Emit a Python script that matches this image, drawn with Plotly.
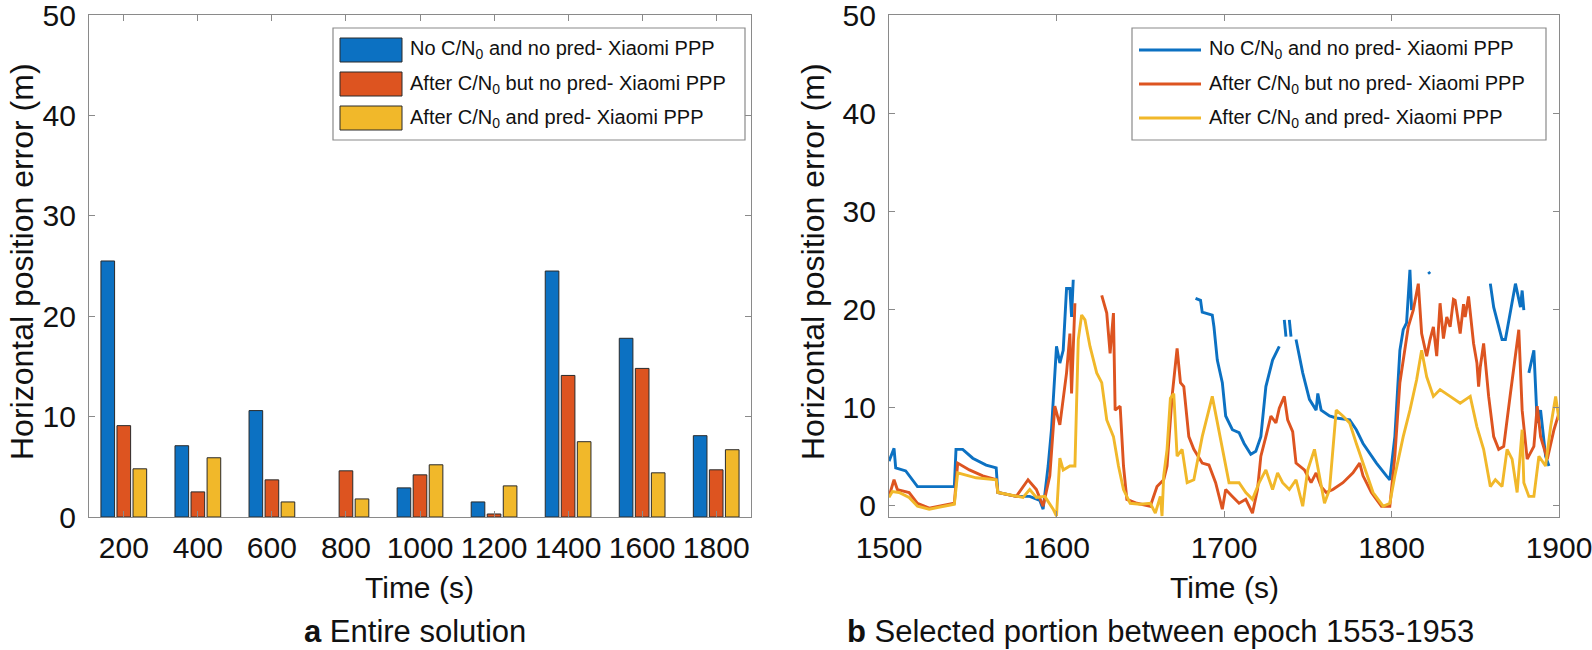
import plotly.graph_objects as go

W, H = 1592, 650

# ---------------- data: panel a (bars) ----------------
bar_times = [200, 400, 600, 800, 1000, 1200, 1400, 1600, 1800]
bar_tick_labels = ["200", "400", "600", "800", "1000", "1200", "1400", "1600", "1800"]
err_no_cn0_no_pred = [25.5, 7.1, 10.6, None, 2.9, 1.5, 24.5, 17.8, 8.1]
err_cn0_no_pred = [9.1, 2.5, 3.7, 4.6, 4.2, 0.3, 14.1, 14.8, 4.7]
err_cn0_pred = [4.8, 5.9, 1.5, 1.8, 5.2, 3.1, 7.5, 4.4, 6.7]

# ---------------- data: panel b (lines) ----------------
blue_t = [1500, 1503, 1504, 1510, 1517, 1524, 1539, 1540, 1544, 1550, 1558, 1564, 1565, 1576, 1584,
          1590, 1592, 1595, 1597, 1600, 1602, 1604, 1606, 1608, 1609, 1610, 1611,
          1683, 1686, 1687, 1693, 1694, 1696, 1699, 1701, 1705, 1709, 1712, 1716, 1719, 1722, 1725,
          1729, 1733, 1734,
          1736, 1737, 1738, 1739, 1740, 1741,
          1743, 1747, 1751, 1755, 1756, 1758, 1763, 1767, 1775, 1779, 1783, 1791, 1797, 1799, 1802,
          1805, 1807, 1809, 1811, 1812, 1813,
          1822, 1823, 1824,
          1859, 1861, 1866, 1868, 1874, 1877, 1878, 1879, 1880,
          1882, 1885, 1887, 1889, 1892, 1894]
blue_v = [4.5, 5.8, 3.8, 3.5, 1.9, 1.9, 1.9, 5.7, 5.7, 4.8, 4.1, 3.8, 1.3, 0.9, 0.9,
          0.5, -0.4, 4.0, 7.7, 16.2, 14.5, 15.8, 22.1, 22.1, 19.2, 23.0, None,
          21.1, 20.9, 19.7, 19.4, 18.2, 14.8, 12.5, 9.1, 7.7, 7.4, 6.3, 5.2, 5.5, 7.0, 12.1,
          14.8, 16.2, None,
          18.9, 17.2, None, 18.9, 17.2, None,
          16.9, 13.5, 10.8, 9.7, 11.4, 9.7, 9.1, 8.9, 8.7, 7.7, 6.3, 4.3, 3.0, 2.6, 7.0,
          15.8, 17.9, 18.6, 24.0, 19.9, None,
          23.8, 23.6, None,
          22.6, 20.2, 16.9, 16.9, 22.6, 20.2, 21.9, 19.9, None,
          13.5, 15.8, 8.4, 9.7, 5.0, 4.0]

orange_t = [1500, 1503, 1505, 1512, 1517, 1524, 1539, 1541, 1548, 1556, 1564, 1565, 1576, 1583, 1588,
            1592, 1596, 1599, 1602, 1604, 1606, 1608, 1609, 1611, 1612,
            1627, 1630, 1632, 1634, 1635, 1638, 1640, 1642, 1648, 1656, 1660, 1664, 1666, 1669,
            1672, 1674, 1676, 1679, 1682, 1687, 1691, 1695, 1699, 1701, 1705, 1709, 1713, 1717,
            1720, 1722, 1725, 1728, 1731, 1733, 1736, 1738, 1741, 1743, 1748, 1752, 1755, 1758,
            1761, 1765, 1771, 1777, 1781, 1783, 1788, 1794, 1799, 1802, 1805, 1808, 1810, 1813,
            1816, 1818, 1821, 1823, 1825, 1827, 1829, 1831, 1833, 1835, 1837, 1838, 1841, 1843,
            1844, 1846, 1849, 1851, 1852, 1853, 1855, 1858, 1861, 1864, 1867, 1871, 1874, 1876,
            1878, 1881, 1885, 1887, 1889, 1893, 1897, 1900]
orange_v = [0.9, 2.6, 1.6, 1.3, 0.2, -0.3, 0.2, 4.3, 3.6, 3.0, 2.6, 1.3, 0.9, 2.6, 1.6,
            -0.1, 3.0, 10.1, 8.2, 10.9, 13.5, 17.5, 11.4, 20.6, None,
            21.4, 19.6, 15.5, 19.6, 9.7, 10.1, 4.0, 0.6, 0.2, -0.1, 1.9, 2.6, 4.0, 11.1,
            16.0, 12.5, 12.1, 7.0, 5.7, 4.3, 4.1, 2.3, -0.4, 1.6, 0.9, 0.2, 0.6, -0.8,
            1.6, 5.0, 7.0, 9.1, 8.4, 9.9, 11.1, 8.7, 7.5, 4.3, 3.6, 2.3, 3.3, 1.9,
            1.3, 1.6, 2.3, 3.3, 4.3, 3.0, 1.3, -0.1, -0.1, 5.0, 12.5, 15.8, 18.2, 19.9,
            22.6, 17.5, 15.2, 16.9, 18.2, 15.2, 20.6, 17.0, 19.2, 18.2, 21.0, 20.9, 17.5, 20.5,
            19.2, 21.3, 16.5, 14.5, 12.1, 14.1, 16.5, 11.1, 7.0, 5.7, 6.0, 11.4, 15.2, 17.9,
            9.7, 4.7, 6.0, 10.1, 7.0, 4.7, 7.7, 9.4]

yellow_t = [1500, 1502, 1506, 1512, 1517, 1524, 1539, 1541, 1552, 1564, 1565, 1580, 1584, 1588, 1593,
            1598, 1600, 1602, 1604, 1608, 1611, 1613, 1615, 1617, 1620, 1624, 1627, 1630, 1634,
            1637, 1640, 1644, 1650, 1656, 1659, 1662, 1663, 1664, 1666, 1668, 1670, 1672, 1675,
            1678, 1682, 1687, 1693, 1696, 1699, 1703, 1709, 1713, 1717, 1721, 1725, 1729, 1732,
            1735, 1739, 1743, 1747, 1750, 1754, 1757, 1760, 1763, 1767, 1771, 1775, 1779, 1783,
            1789, 1795, 1799, 1802, 1807, 1811, 1815, 1818, 1821, 1825, 1829, 1835, 1841, 1847,
            1851, 1855, 1859, 1862, 1866, 1869, 1872, 1875, 1878, 1879, 1882, 1885, 1888, 1892,
            1895, 1898, 1900]
yellow_v = [0.8, 1.4, 1.3, 0.8, -0.1, -0.4, 0.1, 3.3, 2.8, 2.6, 1.3, 0.8, 1.6, 0.8, 0.9,
            -0.4, -1.1, 4.8, 3.6, 4.0, 4.0, 16.9, 19.4, 18.9, 16.2, 13.5, 12.5, 8.7, 7.0,
            4.0, 1.6, 0.2, 0.1, 0.2, -0.8, 0.9, -1.1, 3.0, 5.7, 10.9, 11.4, 5.0, 5.7,
            2.3, 2.6, 7.0, 11.1, 8.4, 5.7, 2.3, 2.3, 1.3, 0.6, 2.3, 3.6, 1.6, 3.3,
            2.3, 1.6, 2.6, -0.1, 3.6, 5.7, 3.0, 0.2, 1.6, 9.7, 9.1, 8.4, 6.3, 4.3,
            1.3, -0.1, 0.2, 3.0, 7.0, 9.7, 12.8, 15.8, 13.1, 11.1, 11.8, 11.1, 10.4, 11.1,
            8.0, 5.7, 1.9, 2.6, 1.9, 5.7, 4.7, 1.3, 7.7, 2.3, 0.9, 0.9, 5.0, 4.0,
            8.0, 11.1, 8.7]

series_names = [
    "No C/N<sub>0</sub> and no pred- Xiaomi PPP",
    "After C/N<sub>0</sub> but no pred- Xiaomi PPP",
    "After C/N<sub>0</sub> and pred- Xiaomi PPP",
]
y_ticks = [0, 10, 20, 30, 40, 50]
line_ticks = [1500, 1600, 1700, 1800, 1900]

# ---------------- style ----------------
COLORS = ["#0C71C2", "#DD5420", "#F1B82A"]
FONT = "Liberation Sans, Arial, sans-serif"
TXT = "#111111"
FRAME = "#8a8a8a"


def px(x):
    return x / W


def py(y):
    return 1 - y / H


fig = go.Figure()

for name, vals, col in zip(series_names, [err_no_cn0_no_pred, err_cn0_no_pred, err_cn0_pred], COLORS):
    fig.add_trace(go.Bar(x=bar_times, y=vals, name=name,
                         marker=dict(color=col, line=dict(color="#2a2a2a", width=1)),
                         xaxis="x", yaxis="y", showlegend=False))

for name, t, v, col in zip(series_names, [blue_t, orange_t, yellow_t], [blue_v, orange_v, yellow_v], COLORS):
    fig.add_trace(go.Scatter(x=t, y=v, mode="lines", name=name, line=dict(color=col, width=2.9),
                             connectgaps=False, xaxis="x2", yaxis="y2", showlegend=False))

axis_common = dict(showline=True, linecolor=FRAME, linewidth=1.2, mirror="ticks", ticks="inside",
                   ticklen=6, tickcolor=FRAME, showgrid=False, zeroline=False, automargin=False,
                   tickangle=0, ticklabeloverflow="allow",
                   tickfont=dict(family=FONT, size=30, color=TXT))

fig.update_layout(
    width=W, height=H, margin=dict(l=0, r=0, t=0, b=0),
    paper_bgcolor="white", plot_bgcolor="white",
    barmode="group", bargap=0.35, bargroupgap=0.15,
    xaxis=dict(domain=[px(89), px(751)], range=[106, 1894], tickvals=bar_times, ticktext=bar_tick_labels,
               anchor="y", ticklabelstandoff=4, **axis_common),
    yaxis=dict(domain=[py(517), py(15)], range=[0, 50], tickvals=y_ticks, anchor="x",
               ticklabelstandoff=6, **axis_common),
    xaxis2=dict(domain=[px(889), px(1559)], range=[1500, 1900], tickvals=line_ticks, anchor="y2",
                ticklabelstandoff=4, **axis_common),
    yaxis2=dict(domain=[py(517), py(15)], range=[-1.2, 50], tickvals=y_ticks, anchor="x2",
                ticklabelstandoff=6, **axis_common),
)

ann = []
shapes = []
ann.append(dict(text="Horizontal position error (m)", x=px(22), y=py(262), textangle=-90, size=32))
ann.append(dict(text="Horizontal position error (m)", x=px(813), y=py(262), textangle=-90, size=32))
ann.append(dict(text="Time (s)", x=px(420), y=py(587), size=30))
ann.append(dict(text="Time (s)", x=px(1224), y=py(587), size=30))
ann.append(dict(text="<b>a</b> Entire solution", x=px(415), y=py(631), size=31))
ann.append(dict(text="<b>b</b> Selected portion between epoch 1553-1953", x=px(1160), y=py(631), size=31))
annotations = []
for a in ann:
    s = a.pop("size")
    a.update(xref="paper", yref="paper", showarrow=False, xanchor="center", yanchor="middle",
             font=dict(family=FONT, size=s, color=TXT))
    annotations.append(a)

# legends (drawn as shapes + text)
leg_rows = [50, 84, 118]
for (bx0, bx1, kind) in [(333, 745, "bar"), (1132, 1546, "line")]:
    shapes.append(dict(type="rect", xref="paper", yref="paper", x0=px(bx0), x1=px(bx1), y0=py(140), y1=py(28),
                       line=dict(color=FRAME, width=1.2), fillcolor="white", layer="above"))
    for name, col, ry in zip(series_names, COLORS, leg_rows):
        if kind == "bar":
            shapes.append(dict(type="rect", xref="paper", yref="paper", x0=px(bx0 + 7), x1=px(bx0 + 69),
                               y0=py(ry + 12), y1=py(ry - 12), fillcolor=col,
                               line=dict(color="#2a2a2a", width=1), layer="above"))
        else:
            shapes.append(dict(type="line", xref="paper", yref="paper", x0=px(bx0 + 7), x1=px(bx0 + 69),
                               y0=py(ry), y1=py(ry), line=dict(color=col, width=2.9), layer="above"))
        annotations.append(dict(text=name, x=px(bx0 + 75), y=py(ry), xref="paper", yref="paper", showarrow=False,
                                xanchor="left", yanchor="middle", font=dict(family=FONT, size=20, color=TXT)))

fig.update_layout(annotations=annotations, shapes=shapes)
fig.write_html("out.html", config={"displayModeBar": False},
               post_script="document.body.style.margin='0px';document.body.style.overflow='hidden';")
